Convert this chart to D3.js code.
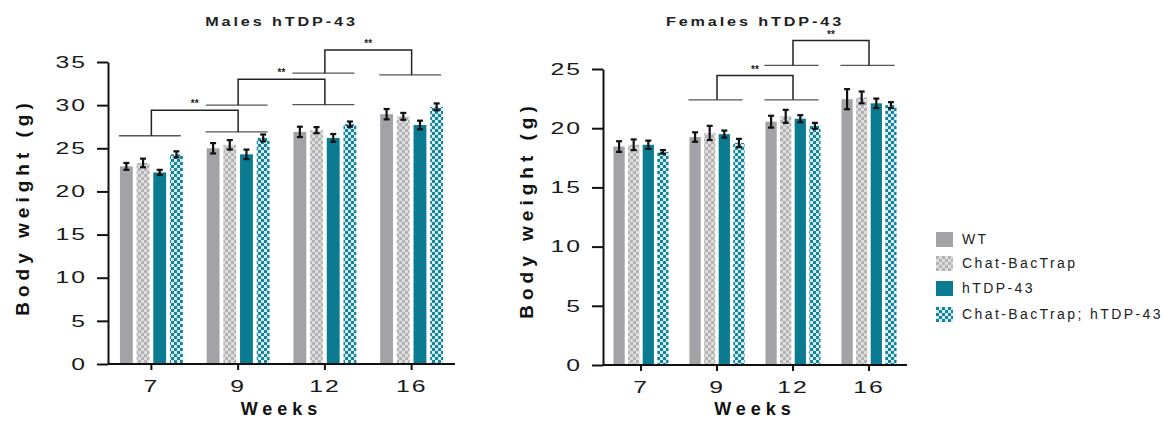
<!DOCTYPE html>
<html>
<head>
<meta charset="UTF-8">
<title>Body weight hTDP-43</title>
<script src="https://d3js.org/d3.v7.min.js"></script>
<style>
  body { margin: 0; background: #fff; }
  svg { display: block; font-family: "Liberation Sans", Arial, sans-serif; }
</style>
</head>
<body>
<div id="vis"></div>
<script>
// data
var weeks = ["7", "9", "12", "16"];
var groups = ["WT", "Chat-BacTrap", "hTDP-43", "Chat-BacTrap; hTDP-43"];

// one row per group, one value per week
var maleMeans = [
  [22.9, 25.0, 26.9, 28.95],
  [23.3, 25.4, 27.1, 28.7],
  [22.2, 24.3, 26.2, 27.7],
  [24.3, 26.2, 27.8, 29.8]
];
var maleErrs = [
  [0.4, 0.6, 0.6, 0.6],
  [0.5, 0.55, 0.35, 0.4],
  [0.3, 0.55, 0.45, 0.5],
  [0.35, 0.4, 0.3, 0.4]
];
var femaleMeans = [
  [18.45, 19.25, 20.55, 22.45],
  [18.6, 19.6, 21.0, 22.6],
  [18.6, 19.5, 20.8, 22.1],
  [18.0, 18.75, 20.2, 21.95]
];
var femaleErrs = [
  [0.45, 0.4, 0.5, 0.85],
  [0.45, 0.6, 0.55, 0.5],
  [0.35, 0.3, 0.3, 0.4],
  [0.15, 0.35, 0.25, 0.25]
];
var maleTicks = [0, 5, 10, 15, 20, 25, 30, 35];
var femaleTicks = [0, 5, 10, 15, 20, 25];

// significance brackets: weeks joined, bracket level, level of each group line
var maleBrackets = [
  {a: "7", b: "9", y: 29.4, ya: 26.45, yb: 26.9},
  {a: "9", b: "12", y: 33.0, ya: 30.0, yb: 30.05},
  {a: "12", b: "16", y: 36.4, ya: 33.7, yb: 33.5}
];
var femaleBrackets = [
  {a: "9", b: "12", y: 24.45, ya: 22.4, yb: 22.4},
  {a: "12", b: "16", y: 27.4, ya: 25.3, yb: 25.3}
];

var width = 1163, height = 421;
var svg = d3.select("#vis").append("svg")
  .attr("width", width)
  .attr("height", height);

// checker patterns
var defs = svg.append("defs");
function checker(id, base, dark) {
  var p = defs.append("pattern")
    .attr("id", id)
    .attr("patternUnits", "userSpaceOnUse")
    .attr("width", 6).attr("height", 6);
  p.append("rect").attr("width", 6).attr("height", 6).attr("fill", base);
  p.append("rect").attr("width", 3).attr("height", 3).attr("fill", dark);
  p.append("rect").attr("x", 3).attr("y", 3).attr("width", 3).attr("height", 3).attr("fill", dark);
}
checker("chk-grey", "#dedede", "#b3b3b5");
checker("chk-teal", "#d6ebef", "#13849a");

var fills = ["#a2a2a7", "url(#chk-grey)", "#0b7b91", "url(#chk-teal)"];
var sx = 1.5; // tick labels in the figure are stretched sideways

function panel(o) {
  var g = svg.append("g");
  var x = d3.scaleBand().domain(weeks).range([o.x0, o.x1]);
  var inner = d3.scaleBand().domain(d3.range(groups.length))
    .range([0, x.bandwidth() * 0.725]).paddingInner(0.23);
  var off = (x.bandwidth() - inner.range()[1]) / 2;
  var y = d3.scaleLinear().domain([0, o.ymax]).range([o.yBase, o.yTop]);

  // bars
  groups.forEach(function(grp, gi) {
    var rows = weeks.map(function(w, wi) {
      return {w: w, m: o.means[gi][wi], e: o.errs[gi][wi]};
    });
    var bx = function(d) { return x(d.w) + off + inner(gi); };
    g.selectAll(null).data(rows).enter().append("rect")
      .attr("x", bx)
      .attr("y", function(d) { return y(d.m); })
      .attr("width", inner.bandwidth())
      .attr("height", function(d) { return y(0) - y(d.m); })
      .attr("fill", fills[gi]);
    var cx = function(d) { return bx(d) + inner.bandwidth() / 2; };
    var eb = g.selectAll(null).data(rows).enter().append("g")
      .attr("stroke", "#111").attr("stroke-width", 2.2);
    eb.append("line")
      .attr("x1", cx).attr("x2", cx)
      .attr("y1", function(d) { return y(d.m - d.e); })
      .attr("y2", function(d) { return y(d.m + d.e); });
    eb.append("line")
      .attr("x1", function(d) { return cx(d) - 3; })
      .attr("x2", function(d) { return cx(d) + 3; })
      .attr("y1", function(d) { return y(d.m - d.e); })
      .attr("y2", function(d) { return y(d.m - d.e); });
    eb.append("line")
      .attr("x1", function(d) { return cx(d) - 3; })
      .attr("x2", function(d) { return cx(d) + 3; })
      .attr("y1", function(d) { return y(d.m + d.e); })
      .attr("y2", function(d) { return y(d.m + d.e); });
  });

  // brackets
  var gw = inner.range()[1];
  function mid(w) { return x(w) + x.bandwidth() / 2; }
  o.brackets.forEach(function(b) {
    [[b.a, b.ya], [b.b, b.yb]].forEach(function(s) {
      g.append("line")
        .attr("x1", x(s[0]) + off - 1).attr("x2", x(s[0]) + off + gw - 2)
        .attr("y1", y(s[1])).attr("y2", y(s[1]))
        .attr("stroke", "#555").attr("stroke-width", 1.3);
    });
    g.append("path")
      .attr("d", "M" + mid(b.a) + "," + y(b.ya) + "V" + y(b.y) + "H" + mid(b.b) + "V" + y(b.yb))
      .attr("fill", "none").attr("stroke", "#222").attr("stroke-width", 1.5);
    g.append("text")
      .attr("x", (mid(b.a) + mid(b.b)) / 2)
      .attr("y", y(b.y) - 3)
      .attr("text-anchor", "middle")
      .attr("font-size", 10).attr("font-weight", "bold").attr("fill", "#222")
      .text("**");
  });

  // axes
  var ya = g.append("g").attr("transform", "translate(" + o.x0 + ",0)")
    .call(d3.axisLeft(y).tickValues(o.ticks).tickSize(11).tickSizeOuter(0).tickPadding(10));
  var xa = g.append("g").attr("transform", "translate(0," + o.yBase + ")")
    .call(d3.axisBottom(x).tickSize(6).tickSizeOuter(0).tickPadding(10));
  [ya, xa].forEach(function(a) {
    a.selectAll("path, line").attr("stroke", "#111").attr("stroke-width", 2);
    a.selectAll("text")
      .attr("font-size", 16.5).attr("fill", "#1a1a1a")
      .attr("font-family", "\"Liberation Sans\", Arial, sans-serif")
      .style("letter-spacing", "1.3px")
      .attr("x", function() { return +d3.select(this).attr("x") / sx || 0; })
      .attr("transform", "scale(" + sx + ",1)");
  });
  xa.select(".domain").attr("d", "M" + o.x0 + ",0H" + o.x1);

  var cxm = (o.x0 + o.x1) / 2;
  g.append("text")
    .attr("x", cxm / 1.2).attr("y", 26)
    .attr("transform", "scale(1.2,1)")
    .attr("text-anchor", "middle")
    .attr("font-size", 13.5).attr("font-weight", "bold").attr("fill", "#222")
    .style("letter-spacing", "2.4px")
    .text(o.title);
  g.append("text")
    .attr("x", cxm).attr("y", 415)
    .attr("text-anchor", "middle")
    .attr("font-size", 18).attr("font-weight", "bold").attr("fill", "#111")
    .style("letter-spacing", "5px")
    .text("Weeks");
  g.append("text")
    .attr("transform", "translate(" + o.labelX + "," + o.labelY + ") rotate(-90)")
    .attr("text-anchor", "middle")
    .attr("font-size", 19).attr("font-weight", "bold").attr("fill", "#111")
    .style("letter-spacing", "5px")
    .text("Body weight (g)");
}

panel({
  title: "Males hTDP-43", x0: 108, x1: 455, yBase: 364, yTop: 62, ymax: 35,
  ticks: maleTicks, means: maleMeans, errs: maleErrs, brackets: maleBrackets,
  labelX: 29, labelY: 207
});
panel({
  title: "Females hTDP-43", x0: 603, x1: 907, yBase: 365, yTop: 69, ymax: 25,
  ticks: femaleTicks, means: femaleMeans, errs: femaleErrs, brackets: femaleBrackets,
  labelX: 533, labelY: 210
});

// legend
var legend = svg.append("g").selectAll("g").data(groups).enter().append("g")
  .attr("transform", function(d, i) { return "translate(936," + [232, 256, 281, 307][i] + ")"; });
legend.append("rect")
  .attr("width", 17).attr("height", 15)
  .attr("fill", function(d, i) { return fills[i]; });
legend.append("text")
  .attr("x", 26).attr("y", 12)
  .attr("font-size", 14).attr("fill", "#222")
  .style("letter-spacing", "2.4px")
  .text(function(d) { return d; });
</script>
</body>
</html>
